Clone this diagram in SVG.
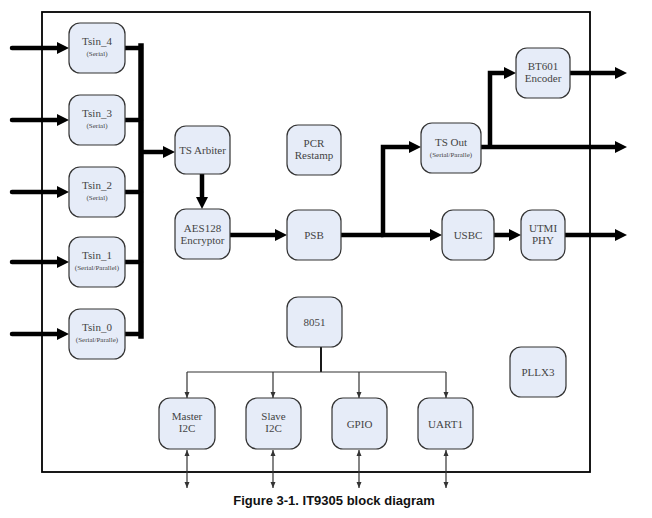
<svg xmlns="http://www.w3.org/2000/svg" width="652" height="518" viewBox="0 0 652 518">
<style>
.nd rect{fill:#e6ecf8;stroke:#333;stroke-width:1.2}
.nd text{font-family:'Liberation Serif','Times New Roman','DejaVu Serif',serif;font-size:11px;fill:#444;text-anchor:middle}
.nd text.s{font-size:7px}
.thick{stroke:#000;stroke-width:4.5;fill:none}
.thin{stroke:#333;stroke-width:1.2;fill:none}
</style>
<defs>
<marker id="ah" markerUnits="userSpaceOnUse" viewBox="0 0 12 12" markerWidth="12" markerHeight="12" refX="0" refY="6" orient="auto">
<path d="M0,0 L12,6 L0,12 z" fill="#000"/>
</marker>
<marker id="sa" markerUnits="userSpaceOnUse" viewBox="0 0 6 6" markerWidth="6" markerHeight="6" refX="6" refY="3" orient="auto">
<path d="M0,0.5 L6,3 L0,5.5 z" fill="#333"/>
</marker>
<marker id="sb" markerUnits="userSpaceOnUse" viewBox="0 0 6 6" markerWidth="6" markerHeight="6" refX="0" refY="3" orient="auto">
<path d="M6,0.5 L0,3 L6,5.5 z" fill="#333"/>
</marker>
</defs>
<rect x="0" y="0" width="652" height="518" fill="#fff"/>
<rect id="chip" x="42" y="12" width="548" height="460" fill="none" stroke="#000" stroke-width="1.8"/>

<g id="connectors">
<line class="thick" x1="12" y1="48" x2="57" y2="48" stroke-linecap="round" marker-end="url(#ah)"/>
<line class="thick" x1="12" y1="120" x2="57" y2="120" stroke-linecap="round" marker-end="url(#ah)"/>
<line class="thick" x1="12" y1="192" x2="57" y2="192" stroke-linecap="round" marker-end="url(#ah)"/>
<line class="thick" x1="12" y1="262" x2="57" y2="262" stroke-linecap="round" marker-end="url(#ah)"/>
<line class="thick" x1="12" y1="334" x2="57" y2="334" stroke-linecap="round" marker-end="url(#ah)"/>
<path class="thick" d="M125,48 H141 M125,120 H141 M125,192 H141 M125,262 H141 M125,334 H141" stroke-linecap="round"/>
<line x1="141" y1="46" x2="141" y2="336" stroke="#000" stroke-width="5.5" stroke-linecap="square"/>
<line class="thick" x1="141" y1="152" x2="163" y2="152" marker-end="url(#ah)"/>
<line class="thick" x1="202" y1="174" x2="202" y2="197" marker-end="url(#ah)"/>
<line class="thick" x1="230" y1="235" x2="275" y2="235" stroke-linecap="round" marker-end="url(#ah)"/>
<path class="thick" d="M341,235 H383" stroke-linecap="round"/>
<path class="thick" d="M383,237 V147 H409" marker-end="url(#ah)"/>
<line class="thick" x1="381" y1="235" x2="430" y2="235" marker-end="url(#ah)"/>
<line class="thick" x1="481" y1="147" x2="615" y2="147" stroke-linecap="round" marker-end="url(#ah)"/>
<path class="thick" d="M490,149 V73 H504" marker-end="url(#ah)"/>
<line class="thick" x1="570" y1="73" x2="615" y2="73" stroke-linecap="round" marker-end="url(#ah)"/>
<line class="thick" x1="494" y1="235" x2="509" y2="235" stroke-linecap="round" marker-end="url(#ah)"/>
<line class="thick" x1="565" y1="235" x2="615" y2="235" stroke-linecap="round" marker-end="url(#ah)"/>
<line x1="321" y1="347" x2="321" y2="372" stroke="#000" stroke-width="1.8"/>
<line class="thin" x1="187" y1="372" x2="446" y2="372"/>
<line class="thin" x1="187" y1="372" x2="187" y2="398" marker-end="url(#sa)"/>
<line class="thin" x1="273" y1="372" x2="273" y2="398" marker-end="url(#sa)"/>
<line class="thin" x1="359" y1="372" x2="359" y2="398" marker-end="url(#sa)"/>
<line class="thin" x1="446" y1="372" x2="446" y2="398" marker-end="url(#sa)"/>
<line class="thin" x1="187" y1="450" x2="187" y2="488" marker-start="url(#sb)" marker-end="url(#sa)"/>
<line class="thin" x1="273" y1="450" x2="273" y2="488" marker-start="url(#sb)" marker-end="url(#sa)"/>
<line class="thin" x1="359" y1="450" x2="359" y2="488" marker-start="url(#sb)" marker-end="url(#sa)"/>
<line class="thin" x1="446" y1="450" x2="446" y2="488" marker-start="url(#sb)" marker-end="url(#sa)"/>
</g>

<g id="tsin4" class="nd"><rect x="69" y="23" width="56" height="50" rx="11"/><text x="97" y="45">Tsin_4</text><text class="s" x="97" y="56">(Serial)</text></g>
<g id="tsin3" class="nd"><rect x="69" y="95" width="56" height="50" rx="11"/><text x="97" y="117">Tsin_3</text><text class="s" x="97" y="128">(Serial)</text></g>
<g id="tsin2" class="nd"><rect x="69" y="167" width="56" height="50" rx="11"/><text x="97" y="189">Tsin_2</text><text class="s" x="97" y="200">(Serial)</text></g>
<g id="tsin1" class="nd"><rect x="69" y="237" width="56" height="50" rx="11"/><text x="97" y="259">Tsin_1</text><text class="s" x="97" y="270">(Serial/Parallel)</text></g>
<g id="tsin0" class="nd"><rect x="69" y="309" width="56" height="50" rx="11"/><text x="97" y="331">Tsin_0</text><text class="s" x="97" y="342">(Serial/Paralle)</text></g>

<g id="tsarbiter" class="nd"><rect x="175" y="126" width="55" height="48" rx="11"/><text x="202.5" y="154">TS Arbiter</text></g>
<g id="aes128" class="nd"><rect x="175" y="209" width="55" height="50" rx="11"/><text x="202.5" y="232">AES128</text><text x="202.5" y="244">Encryptor</text></g>
<g id="pcr" class="nd"><rect x="287" y="125" width="54" height="50" rx="11"/><text x="314" y="147">PCR</text><text x="314" y="159">Restamp</text></g>
<g id="psb" class="nd"><rect x="287" y="210" width="54" height="50" rx="11"/><text x="314" y="239">PSB</text></g>
<g id="tsout" class="nd"><rect x="421" y="123" width="60" height="50" rx="11"/><text x="451" y="146">TS Out</text><text class="s" x="451" y="157">(Serial/Paralle)</text></g>
<g id="bt601" class="nd"><rect x="516" y="48" width="54" height="50" rx="11"/><text x="543" y="70">BT601</text><text x="543" y="82">Encoder</text></g>
<g id="usbc" class="nd"><rect x="442" y="210" width="52" height="50" rx="11"/><text x="468" y="239">USBC</text></g>
<g id="utmi" class="nd"><rect x="521" y="210" width="44" height="50" rx="11"/><text x="543" y="232">UTMI</text><text x="543" y="244">PHY</text></g>
<g id="mcu8051" class="nd"><rect x="287" y="297" width="55" height="50" rx="11"/><text x="314.5" y="326">8051</text></g>
<g id="pllx3" class="nd"><rect x="510" y="347" width="56" height="50" rx="11"/><text x="538" y="376">PLLX3</text></g>
<g id="masteri2c" class="nd"><rect x="159" y="398" width="56" height="51" rx="11"/><text x="187" y="420">Master</text><text x="187" y="432">I2C</text></g>
<g id="slavei2c" class="nd"><rect x="246" y="398" width="55" height="51" rx="11"/><text x="273.5" y="420">Slave</text><text x="273.5" y="432">I2C</text></g>
<g id="gpio" class="nd"><rect x="332" y="398" width="55" height="51" rx="11"/><text x="359.5" y="428">GPIO</text></g>
<g id="uart1" class="nd"><rect x="418" y="398" width="55" height="51" rx="11"/><text x="445.5" y="428">UART1</text></g>

<text id="caption" x="334" y="505" font-family="'Liberation Sans',Arial,sans-serif" font-size="13" font-weight="bold" fill="#111" text-anchor="middle">Figure 3-1. IT9305 block diagram</text>
</svg>
